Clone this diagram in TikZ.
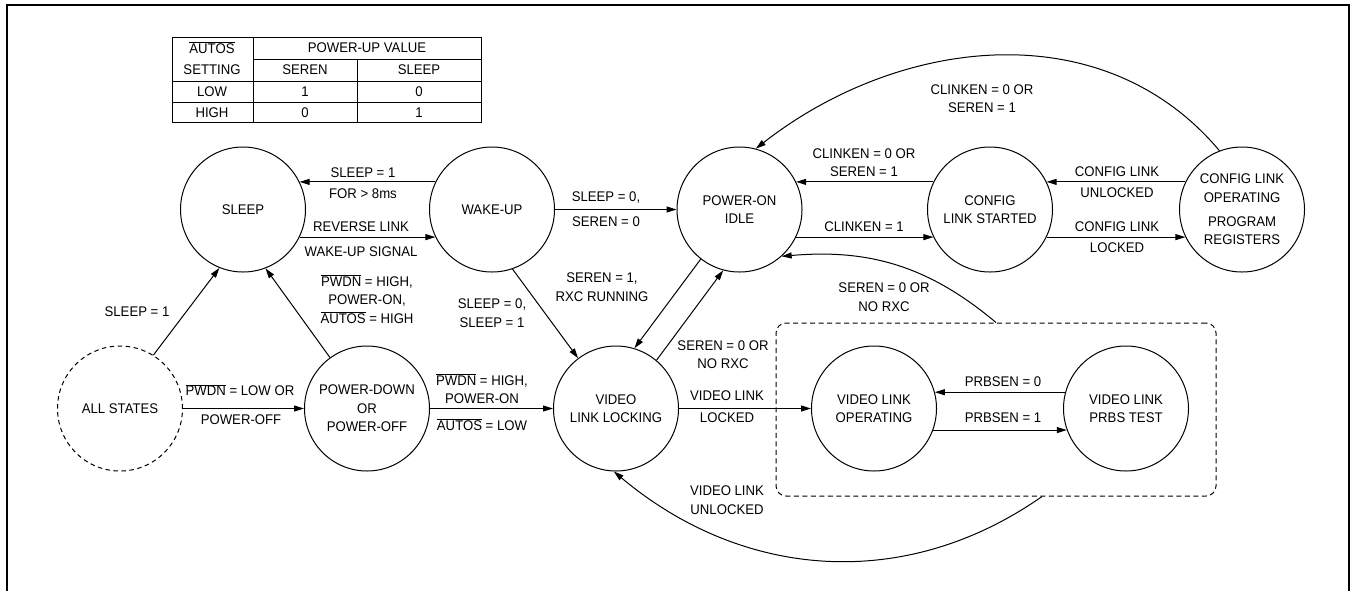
\documentclass[tikz,border=0pt]{standalone}
\usepackage{fontspec}
\setmainfont{Liberation Sans}[FakeStretch=0.94]
\usetikzlibrary{arrows.meta}
\newcommand{\fs}{\fontsize{14}{18.5}\selectfont}
\newcommand{\ovl}[1]{$\overline{\mbox{#1}}$}

\begin{document}
\begin{tikzpicture}[x=1pt,y=-1pt,
    st/.style={circle,draw,line width=1pt,minimum size=125pt,inner sep=0pt,align=center,font=\fs},
    lbl/.style={align=center,font=\fs,inner sep=0pt},
    arr/.style={-{Triangle[length=10pt,width=6pt]},line width=1pt}]
      \useasboundingbox (0,0) rectangle (1351,590);
      \draw[line width=2.2pt] (6.7,600) -- (6.7,5) -- (1349,5) -- (1349,600);
      \draw[line width=1pt] (172,37) rectangle (481,122.5);
      \draw[line width=1pt] (253,37) -- (253,122.5) (357,59) -- (357,122.5) (253,59) -- (481,59)
        (172,81.5) -- (481,81.5) (172,102.5) -- (481,102.5);
      \node[lbl] (thauto) at (212,48) {\ovl{AUTOS}};
      \node[lbl] (thset) at (212,70) {SETTING};
      \node[lbl] (thval) at (367,48) {POWER-UP VALUE};
      \node[lbl] (thseren) at (305,70) {SEREN};
      \node[lbl] (thsleep) at (419,70) {SLEEP};
      \foreach \y/\a/\b/\c [count=\i] in {92/LOW/1/0, 112.5/HIGH/0/1} {
        \node[lbl] (tr\i a) at (212,\y) {\a};
        \node[lbl] (tr\i b) at (305,\y) {\b};
        \node[lbl] (tr\i c) at (419,\y) {\c};
      }
      \node[st] (sleep) at (243,209.5) {SLEEP};
      \node[st] (wake) at (492,209.5) {WAKE-UP};
      \node[st] (idle) at (739.5,209.5) {POWER-ON\\IDLE};
      \node[st] (cfgst) at (990,209.5) {CONFIG\\LINK STARTED};
      \node[st] (cfgop) at (1242,209.5) {CONFIG LINK\\OPERATING\\[5.5pt]PROGRAM\\REGISTERS};
      \node[st,dash pattern=on 4.5pt off 3.5pt] (all) at (120,408.5) {ALL STATES};
      \node[st] (pdown) at (367,408.5) {POWER-DOWN\\OR\\POWER-OFF};
      \node[st] (vlock) at (616,408.5) {VIDEO\\LINK LOCKING};
      \node[st] (vop) at (874,408.5) {VIDEO LINK\\OPERATING};
      \node[st] (prbs) at (1126,408.5) {VIDEO LINK\\PRBS TEST};
      \node[draw,line width=1pt,dash pattern=on 5pt off 3.5pt,rounded corners=10pt,
        minimum width=440pt,minimum height=173pt] (vbox) at (996,409.5) {};
      \draw[arr] (wake.154) -- (sleep.26);
      \draw[arr] (sleep.-26) -- (wake.206);
      \draw[arr] (wake) -- (idle);
      \draw[arr] (wake.-71) -- (vlock.127);
      \draw[arr] (idle.232) -- (vlock.73);
      \draw[arr] (vlock.50) -- (idle.255);
      \draw[arr] (all.58) -- (sleep.248);
      \draw[arr] (pdown.126) -- (sleep.291);
      \draw[arr] (all) -- (pdown);
      \draw[arr] (pdown) -- (vlock);
      \draw[arr] (vlock) -- (vop);
      \draw[arr] (prbs.165) -- (vop.15);
      \draw[arr] (vop.-20) -- (prbs.200);
      \draw[arr] (cfgst.154) -- (idle.26);
      \draw[arr] (idle.-26) -- (cfgst.206);
      \draw[arr] (cfgop.154) -- (cfgst.26);
      \draw[arr] (cfgst.-26) -- (cfgop.206);
      \draw[arr] (cfgop.111) to[out=130,in=38] (idle.75);
      \draw[arr] (vbox.north) to[out=140,in=5] (idle.-48);
      \draw[arr] ([xshift=46pt]vbox.south) to[out=215,in=-40] (vlock.268);
      \node[lbl] (l1a) at (363,173) {SLEEP = 1};
      \node[lbl] (l1b) at (363,194) {FOR > 8ms};
      \node[lbl] (l2a) at (361,227) {REVERSE LINK};
      \node[lbl] (l2b) at (361,252) {WAKE-UP SIGNAL};
      \node[lbl] (l3) at (367,299) {\ovl{PWDN} = HIGH,\\POWER-ON,\\\ovl{AUTOS} = HIGH};
      \node[lbl] (l4) at (137,312) {SLEEP = 1};
      \node[lbl] (l5a) at (240,390) {\ovl{PWDN} = LOW OR};
      \node[lbl] (l5b) at (241,420) {POWER-OFF};
      \node[lbl] (l6a) at (482,388.5) {\ovl{PWDN} = HIGH,\\POWER-ON};
      \node[lbl] (l6b) at (482,425) {\ovl{AUTOS} = LOW};
      \node[lbl] (l7a) at (606,198) {SLEEP = 0,};
      \node[lbl] (l7b) at (606,222) {SEREN = 0};
      \node[lbl] (l8) at (492,313) {SLEEP = 0,\\SLEEP = 1};
      \node[lbl] (l9) at (602,287) {SEREN = 1,\\RXC RUNNING};
      \node[lbl] (l10) at (723,354.5) {SEREN = 0 OR\\NO RXC};
      \node[lbl] (l11a) at (727,396) {VIDEO LINK};
      \node[lbl] (l11b) at (727,418) {LOCKED};
      \node[lbl] (l12) at (727,500) {VIDEO LINK\\UNLOCKED};
      \node[lbl] (l13a) at (1003,381.5) {PRBSEN = 0};
      \node[lbl] (l13b) at (1003,418) {PRBSEN = 1};
      \node[lbl] (l14) at (884,297) {SEREN = 0 OR\\NO RXC};
      \node[lbl] (l15a) at (864,162.5) {CLINKEN = 0 OR\\SEREN = 1};
      \node[lbl] (l15b) at (864,227) {CLINKEN = 1};
      \node[lbl] (l16a) at (1117,172) {CONFIG LINK};
      \node[lbl] (l16b) at (1117,193) {UNLOCKED};
      \node[lbl] (l17a) at (1117,227) {CONFIG LINK};
      \node[lbl] (l17b) at (1117,248) {LOCKED};
      \node[lbl] (l18) at (982,98.5) {CLINKEN = 0 OR\\SEREN = 1};
\end{tikzpicture}
\end{document}
